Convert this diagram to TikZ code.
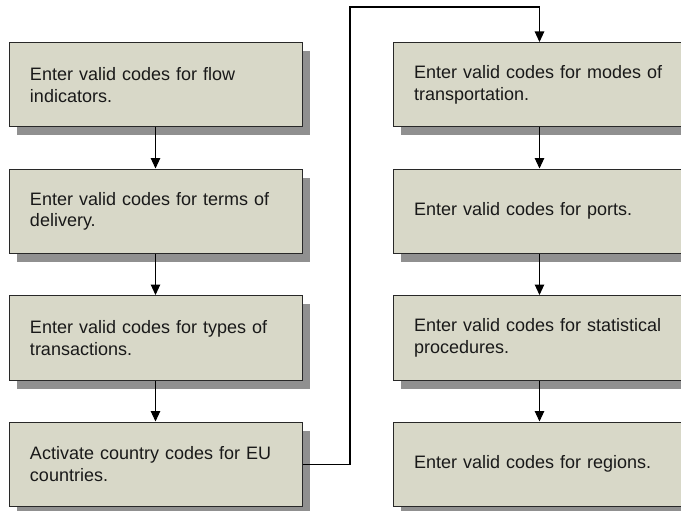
\documentclass[tikz,border=0pt]{standalone}
\usepackage{fontspec}
\setmainfont{Liberation Sans}
\usetikzlibrary{arrows.meta,shadows}
\definecolor{boxfill}{RGB}{216,216,200}
\definecolor{shadowgray}{RGB}{144,144,144}
\definecolor{boxline}{RGB}{40,40,40}
\begin{document}
\begin{tikzpicture}[x=1pt,y=-1pt,
  box/.style={draw=boxline, line width=1pt, fill=boxfill,
    minimum width=293pt, minimum height=84.5pt, text width=251pt,
    inner xsep=21pt, inner ysep=0pt, align=left,
    font=\fontsize{18}{21.7}\selectfont, text=black!90,
    drop shadow={shadow xshift=7.5pt, shadow yshift=-8.5pt, fill=shadowgray, opacity=1}},
  conn/.style={draw=black, line width=1.1pt, -{Triangle[width=9.5pt,length=10.5pt]}}]
\useasboundingbox (0,0) rectangle (681,511);
\fill[white] (0,0) rectangle (681,511);
\clip (0,0) rectangle (681,511);
% left column
\node[box] (b1) at (155.5,84.75) {Enter valid codes for flow\\indicators.};
\node[box] (b2) at (155.5,211.25) {Enter valid codes for terms of\\delivery.};
\node[box] (b3) at (155.5,337.75) {Enter valid codes for types of\\transactions.};
\node[box] (b4) at (155.5,464.25) {Activate country codes for EU\\countries.};
% right column
\node[box] (b5) at (539.5,84.75) {Enter valid codes for modes of\\transportation.};
\node[box] (b6) at (539.5,211.25) {Enter valid codes for ports.};
\node[box] (b7) at (539.5,337.75) {Enter valid codes for statistical\\procedures.};
\node[box] (b8) at (539.5,464.25) {Enter valid codes for regions.};
% connectors
\draw[conn] (b1.south) -- (b2.north);
\draw[conn] (b2.south) -- (b3.north);
\draw[conn] (b3.south) -- (b4.north);
\coordinate (top) at (350,7);
\draw[conn] (b4.east) -| (top) -| (b5.north);
\draw[conn] (b5.south) -- (b6.north);
\draw[conn] (b6.south) -- (b7.north);
\draw[conn] (b7.south) -- (b8.north);
\end{tikzpicture}
\end{document}
